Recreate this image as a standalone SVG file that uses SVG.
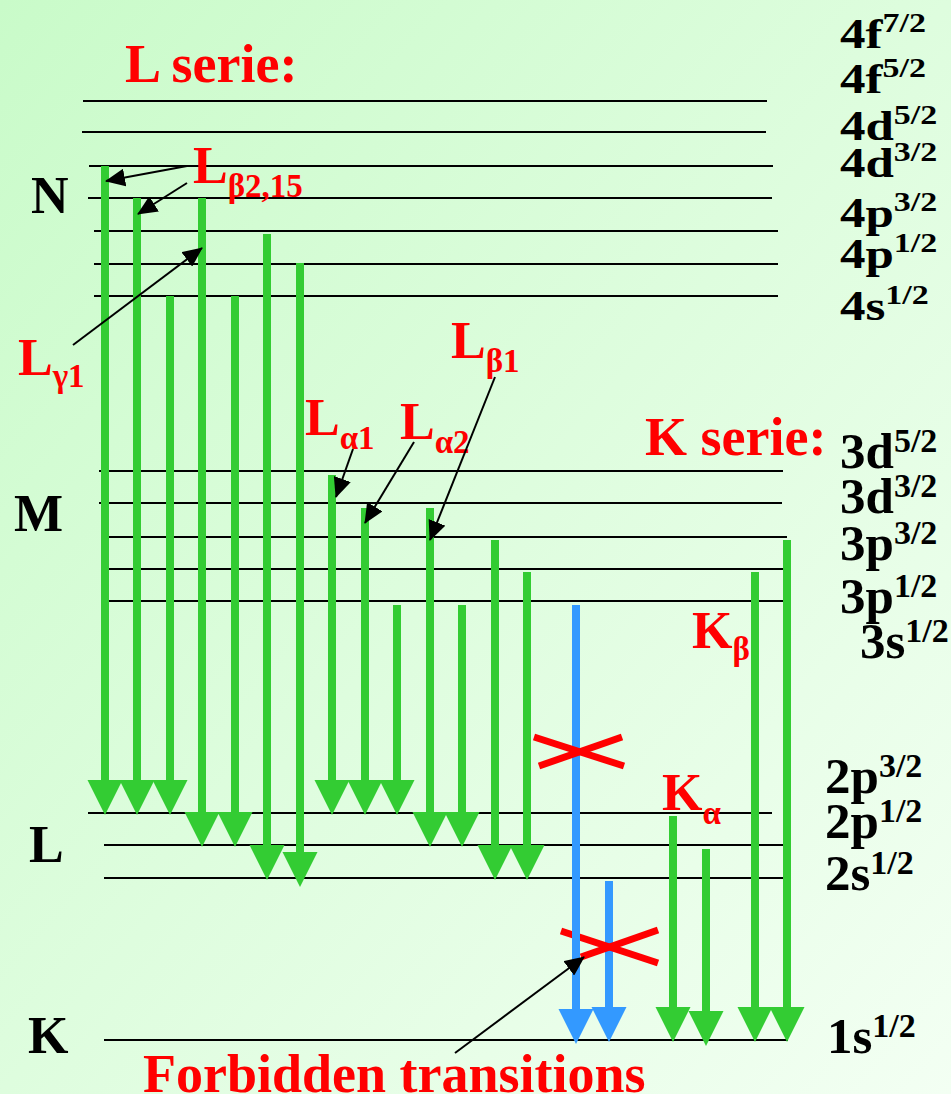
<svg xmlns="http://www.w3.org/2000/svg" xmlns:xlink="http://www.w3.org/1999/xlink" width="951" height="1094" viewBox="0 0 951 1094">
<defs>
<linearGradient id="bg" x1="0" y1="0" x2="1" y2="1">
<stop offset="0" stop-color="#c9fbc9"/>
<stop offset="1" stop-color="#f3fff3"/>
</linearGradient>
<path id="hd" d="M-17.5,0 L17.5,0 L0,35 Z"/>
<marker id="ah" markerUnits="userSpaceOnUse" viewBox="0 0 20 18" refX="19" refY="9" markerWidth="20" markerHeight="18" orient="auto">
<path d="M0,0 L20,9 L0,18 Z" fill="#000"/>
</marker>
<style>
.lv{stroke:#000;stroke-width:2;fill:none}
.t{font-family:"Liberation Serif","Times New Roman",serif;font-weight:bold}
.blk{fill:#000}
.red{fill:#ff0000}
.lab{font-size:51px}
.sp{font-size:34px}
.shell{font-size:52px}
.ser{font-size:54px}
.rl{font-size:52px}
.sb{font-size:33px}
.gs{stroke:#33cc33;stroke-width:8}
.bs{stroke:#3399ff;stroke-width:8}
.gh{fill:#33cc33}
.bh{fill:#3399ff}
.x{stroke:#ff0000;stroke-width:7}
.an{stroke:#000;stroke-width:2;fill:none;marker-end:url(#ah)}
</style>
</defs>
<rect width="951" height="1094" fill="url(#bg)"/>

<g id="shell-N">
<line class="lv" x1="83" y1="101" x2="767" y2="101"/>
<line class="lv" x1="82" y1="132" x2="766" y2="132"/>
<line class="lv" x1="89" y1="166" x2="773" y2="166"/>
<line class="lv" x1="88" y1="198" x2="772" y2="198"/>
<line class="lv" x1="94" y1="231" x2="778" y2="231"/>
<line class="lv" x1="94" y1="264" x2="778" y2="264"/>
<line class="lv" x1="94" y1="296" x2="778" y2="296"/>
<text class="t blk shell" x="31" y="213">N</text>
<g transform="translate(840,48) scale(1,0.82)"><text class="t blk lab">4f<tspan class="sp" dy="-19">7/2</tspan></text></g>
<g transform="translate(840,93) scale(1,0.82)"><text class="t blk lab">4f<tspan class="sp" dy="-19">5/2</tspan></text></g>
<g transform="translate(840,140) scale(1,0.82)"><text class="t blk lab">4d<tspan class="sp" dy="-19">5/2</tspan></text></g>
<g transform="translate(840,177) scale(1,0.82)"><text class="t blk lab">4d<tspan class="sp" dy="-19">3/2</tspan></text></g>
<g transform="translate(840,227) scale(1,0.82)"><text class="t blk lab">4p<tspan class="sp" dy="-19">3/2</tspan></text></g>
<g transform="translate(840,268) scale(1,0.82)"><text class="t blk lab">4p<tspan class="sp" dy="-19">1/2</tspan></text></g>
<g transform="translate(840,320) scale(1,0.82)"><text class="t blk lab">4s<tspan class="sp" dy="-19">1/2</tspan></text></g>
</g>

<g id="shell-M">
<line class="lv" x1="99" y1="471" x2="783" y2="471"/>
<line class="lv" x1="99" y1="503" x2="782" y2="503"/>
<line class="lv" x1="105" y1="537" x2="787" y2="537"/>
<line class="lv" x1="105" y1="569" x2="788" y2="569"/>
<line class="lv" x1="105" y1="601" x2="788" y2="601"/>
<text class="t blk shell" x="14" y="531">M</text>
<text class="t blk lab" x="840" y="468">3d<tspan class="sp" dy="-16">5/2</tspan></text>
<text class="t blk lab" x="840" y="513">3d<tspan class="sp" dy="-16">3/2</tspan></text>
<text class="t blk lab" x="840" y="560">3p<tspan class="sp" dy="-16">3/2</tspan></text>
<text class="t blk lab" x="840" y="613">3p<tspan class="sp" dy="-16">1/2</tspan></text>
<text class="t blk lab" x="860" y="658">3s<tspan class="sp" dy="-16">1/2</tspan></text>
</g>

<g id="shell-L">
<line class="lv" x1="88" y1="813" x2="772" y2="813"/>
<line class="lv" x1="104" y1="845" x2="788" y2="845"/>
<line class="lv" x1="104" y1="878" x2="788" y2="878"/>
<text class="t blk shell" x="29" y="862">L</text>
<text class="t blk lab" x="825" y="793">2p<tspan class="sp" dy="-16">3/2</tspan></text>
<text class="t blk lab" x="825" y="838">2p<tspan class="sp" dy="-16">1/2</tspan></text>
<text class="t blk lab" x="825" y="890">2s<tspan class="sp" dy="-16">1/2</tspan></text>
</g>

<g id="shell-K">
<line class="lv" x1="104" y1="1040" x2="788" y2="1040"/>
<text class="t blk shell" x="28" y="1053">K</text>
<text class="t blk lab" x="827" y="1053">1s<tspan class="sp" dy="-16">1/2</tspan></text>
</g>

<g id="titles">
<text class="t red ser" x="125" y="82">L serie:</text>
<text class="t red ser" x="645" y="455">K serie:</text>
<text class="t red ser" x="143" y="1092">Forbidden transitions</text>
</g>

<g id="line-labels">
<text class="t red rl" x="193" y="183">L<tspan class="sb" dy="14">β2,15</tspan></text>
<text class="t red rl" x="18" y="375">L<tspan class="sb" dy="12">γ1</tspan></text>
<text class="t red rl" x="305" y="435">L<tspan class="sb" dy="14">α1</tspan></text>
<text class="t red rl" x="400" y="439">L<tspan class="sb" dy="14">α2</tspan></text>
<text class="t red rl" x="451" y="358">L<tspan class="sb" dy="14">β1</tspan></text>
<text class="t red rl" x="692" y="648">K<tspan class="sb" dy="12">β</tspan></text>
<text class="t red rl" x="662" y="810">K<tspan class="sb" dy="14">α</tspan></text>
</g>

<g id="connectors">
<!-- L series from N -->
<line class="gs" x1="105" y1="166" x2="105" y2="781"/><use href="#hd" x="105" y="780" class="gh"/>
<line class="gs" x1="137" y1="198" x2="137" y2="781"/><use href="#hd" x="137" y="780" class="gh"/>
<line class="gs" x1="170" y1="296" x2="170" y2="781"/><use href="#hd" x="170" y="780" class="gh"/>
<line class="gs" x1="202" y1="198" x2="202" y2="813"/><use href="#hd" x="202" y="812" class="gh"/>
<line class="gs" x1="235" y1="296" x2="235" y2="813"/><use href="#hd" x="235" y="812" class="gh"/>
<line class="gs" x1="267" y1="234" x2="267" y2="846"/><use href="#hd" x="267" y="845" class="gh"/>
<line class="gs" x1="300" y1="263" x2="300" y2="853"/><use href="#hd" x="300" y="852" class="gh"/>
<!-- L series from M -->
<line class="gs" x1="332" y1="475" x2="332" y2="781"/><use href="#hd" x="332" y="780" class="gh"/>
<line class="gs" x1="365" y1="508" x2="365" y2="781"/><use href="#hd" x="365" y="780" class="gh"/>
<line class="gs" x1="397" y1="605" x2="397" y2="781"/><use href="#hd" x="397" y="780" class="gh"/>
<line class="gs" x1="430" y1="508" x2="430" y2="813"/><use href="#hd" x="430" y="812" class="gh"/>
<line class="gs" x1="462" y1="605" x2="462" y2="813"/><use href="#hd" x="462" y="812" class="gh"/>
<line class="gs" x1="495" y1="540" x2="495" y2="846"/><use href="#hd" x="495" y="845" class="gh"/>
<line class="gs" x1="527" y1="572" x2="527" y2="846"/><use href="#hd" x="527" y="845" class="gh"/>
<!-- forbidden -->
<line class="bs" x1="609" y1="881" x2="609" y2="1008"/><use href="#hd" x="609" y="1007" class="bh"/>
<line class="x" x1="561" y1="931" x2="658" y2="963"/>
<line class="x" x1="658" y1="930" x2="581" y2="957"/>
<line class="bs" x1="576" y1="605" x2="576" y2="1010"/><use href="#hd" x="576" y="1009" class="bh"/>
<line class="x" x1="534" y1="737" x2="624" y2="766"/>
<line class="x" x1="539" y1="766" x2="622" y2="737"/>
<!-- K series -->
<line class="gs" x1="673" y1="816" x2="673" y2="1008"/><use href="#hd" x="673" y="1007" class="gh"/>
<line class="gs" x1="706" y1="849" x2="706" y2="1012"/><use href="#hd" x="706" y="1011" class="gh"/>
<line class="gs" x1="755" y1="572" x2="755" y2="1008"/><use href="#hd" x="755" y="1007" class="gh"/>
<line class="gs" x1="787" y1="540" x2="787" y2="1008"/><use href="#hd" x="787" y="1007" class="gh"/>
<!-- annotation pointers -->
<line class="an" x1="187" y1="166" x2="106" y2="181"/>
<line class="an" x1="187" y1="183" x2="138" y2="214"/>
<line class="an" x1="73" y1="345" x2="202" y2="248"/>
<line class="an" x1="353" y1="449" x2="336" y2="497"/>
<line class="an" x1="414" y1="442" x2="365" y2="523"/>
<line class="an" x1="495" y1="377" x2="430" y2="540"/>
<line class="an" x1="455" y1="1053" x2="584" y2="957"/>
</g>
</svg>
